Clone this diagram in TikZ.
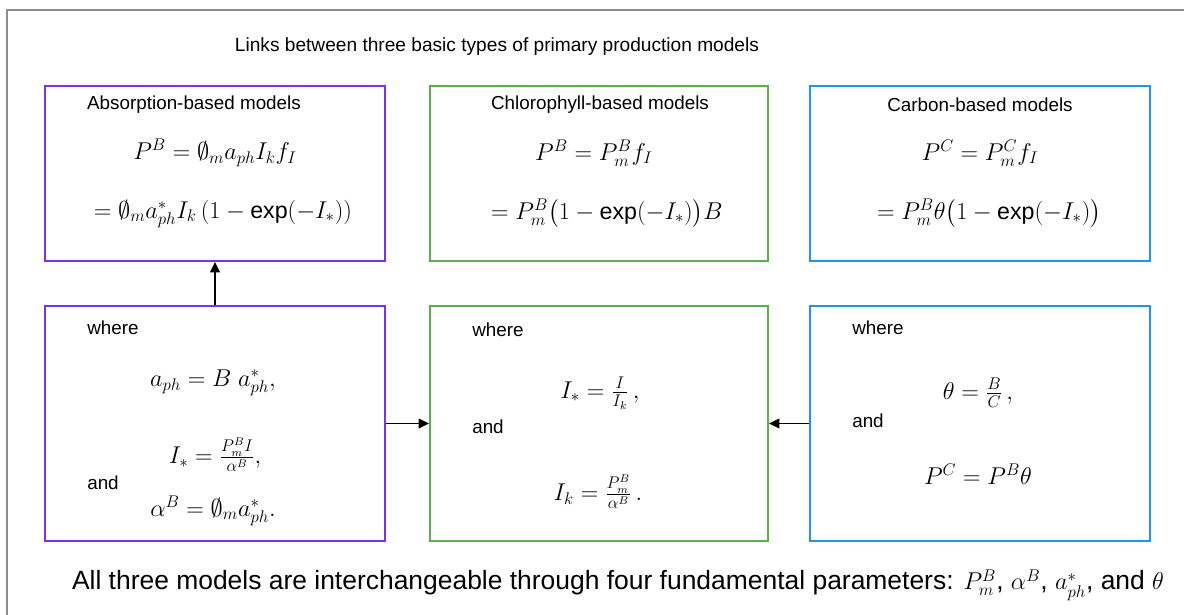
\documentclass[tikz,border=0pt]{standalone}
\usepackage{amsmath,amssymb}
\usepackage{fontspec}
\setmainfont{Liberation Sans}
\usepackage{tikz}
\usetikzlibrary{arrows.meta,positioning}
\definecolor{mpurple}{HTML}{7B2FF7}
\definecolor{mgreen}{HTML}{5CAF4A}
\definecolor{mblue}{HTML}{1E96F0}
\definecolor{framegray}{HTML}{8C8C8C}
\newcommand{\boxfont}{\fontsize{13.4}{16}\selectfont}
\newcommand{\eqfont}{\fontsize{16.5}{20}\selectfont}
\newcommand{\notefont}{\fontsize{18.8}{22}\selectfont}
\tikzset{
  every picture/.append style={font=\boxfont},
  mbox/.style     = {draw, line width=1.3pt, minimum width=8.5cm,
                     minimum height=4.375cm, inner sep=0pt},
  wbox/.style     = {mbox, minimum height=5.875cm},
  absb/.style     = {draw=mpurple},
  chlb/.style     = {draw=mgreen, minimum width=8.45cm},
  carb/.style     = {draw=mblue},
  hd/.style       = {inner sep=1pt},
  eq/.style       = {inner sep=1pt, font=\eqfont},
  lft/.style      = {anchor=west, inner sep=0pt},
  arr/.style      = {-{Triangle[length=2.6mm,width=2.4mm]}, line width=1.2pt},
}

\begin{document}
\begin{tikzpicture}[x=0.025cm,y=-0.025cm]
  \useasboundingbox (0,0) rectangle (1184,615);
  \draw[framegray, line width=1.6pt] (7,640) -- (7,10) -- (1200,10);

  \node[hd, font=\fontsize{13.6}{17}\selectfont] (title) at (497,47)
    {Links between three basic types of primary production models};

  % top row: the three model types
  \node[mbox, absb] (absbox) at (215,173.5) {};
  \node[mbox, chlb] (chlbox) at (599,173.5) {};
  \node[mbox, carb] (carbox) at (980,173.5) {};

  \node[hd] (abshd) at (194,105) {Absorption-based models};
  \node[eq] (abseq1) at (215,153) {$P^{B}=\emptyset_{m}a_{ph}I_{k}f_{I}$};
  \node[eq] (abseq2) at (223,214) {$=\emptyset_{m}a^{*}_{ph}I_{k}\left(1-\text{exp}(-I_{*})\right)$};

  \node[hd] (chlhd) at (600,105) {Chlorophyll-based models};
  \node[eq] (chleq1) at (594,153) {$P^{B}=P^{B}_{m}f_{I}$};
  \node[eq] (chleq2) at (607,213) {$=P^{B}_{m}\bigl(1-\text{exp}(-I_{*})\bigr)B$};

  \node[hd] (carhd) at (980,105) {Carbon-based models};
  \node[eq] (careq1) at (980,153) {$P^{C}=P^{C}_{m}f_{I}$};
  \node[eq] (careq2) at (989,213) {$=P^{B}_{m}\theta\bigl(1-\text{exp}(-I_{*})\bigr)$};

  % bottom row: the definitions
  \node[wbox, absb] (abswhere) at (215,423.5) {};
  \node[wbox, chlb] (chlwhere) at (599,423.5) {};
  \node[wbox, carb] (carwhere) at (980,423.5) {};

  \node[lft] (absw) at (87,328) {where};
  \node[eq] (absd1) at (213,383) {$a_{ph}=B\;a^{*}_{ph},$};
  \node[eq] (absd2) at (215,455) {$I_{*}=\frac{P^{B}_{m}I}{\alpha^{B}},$};
  \node[lft] (absand) at (87,483) {and};
  \node[eq] (absd3) at (213,511) {$\alpha^{B}=\emptyset_{m}a^{*}_{ph}.$};

  \node[lft] (chlw) at (472,330) {where};
  \node[eq] (chld1) at (600,393) {$I_{*}=\frac{I}{I_{k}}\,,$};
  \node[lft] (chland) at (472,427) {and};
  \node[eq] (chld2) at (598,492) {$I_{k}=\frac{P^{B}_{m}}{\alpha^{B}}\,.$};

  \node[lft] (carw) at (852,328) {where};
  \node[eq] (card1) at (978,393) {$\theta=\frac{B}{C}\,,$};
  \node[lft] (carand) at (852,421) {and};
  \node[eq] (card2) at (978,474) {$P^{C}=P^{B}\theta$};

  \draw[arr] (abswhere.north) -- (absbox.south);
  \draw[arr] (abswhere.east) -- (chlwhere.west);
  \draw[arr] (carwhere.west) -- (chlwhere.east);

  \node[hd, font=\notefont] (note) at (618,585)
    {All three models are interchangeable through four fundamental parameters: $P^{B}_{m}$, $\alpha^{B}$, $a^{*}_{ph}$, and $\theta$};
\end{tikzpicture}
\end{document}
